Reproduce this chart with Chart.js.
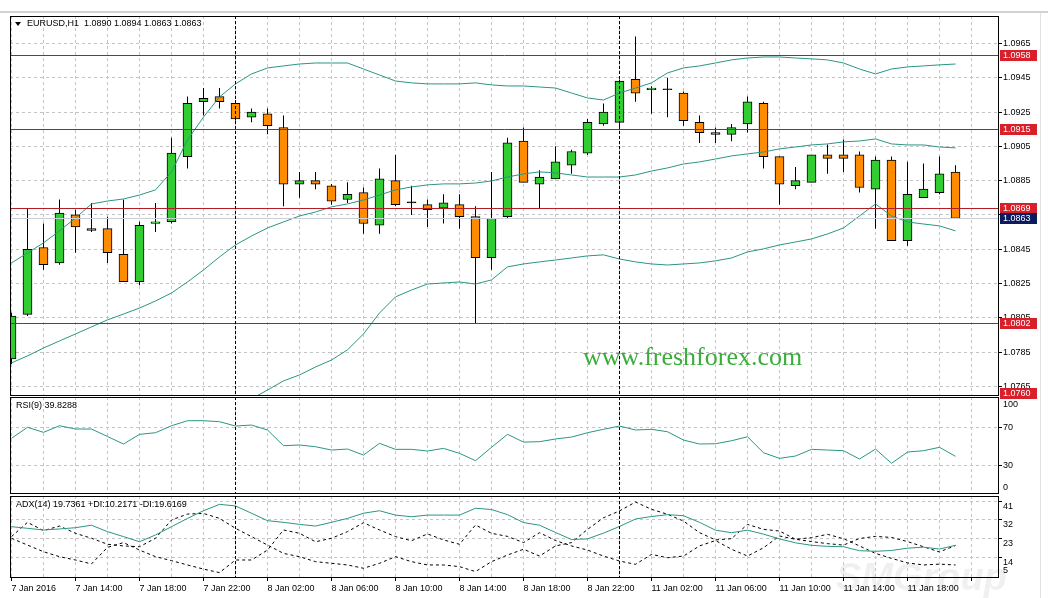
<!DOCTYPE html>
<html>
<head>
<meta charset="utf-8">
<script src="https://cdn.jsdelivr.net/npm/chart.js@4.4.1/dist/chart.umd.min.js"></script>
<style>
  html, body { margin: 0; padding: 0; background: #fff; }
  #wrap { position: relative; width: 1048px; height: 598px; overflow: hidden; background: #fff; }
  #topbar { position: absolute; left: 0; top: 11px; width: 1048px; height: 2px; background: #d2d2d2; }
  #edge { position: absolute; left: 1040px; top: 13px; width: 1px; height: 585px; background: #e2e2e2; }
  canvas { position: absolute; left: 0; }
</style>
</head>
<body>
<div id="wrap">
  <div id="topbar"></div>
  <div id="edge"></div>
  <canvas id="priceChart" width="1048" height="402" style="top:0"></canvas>
  <canvas id="rsiChart" width="1048" height="99" style="top:396px"></canvas>
  <canvas id="adxChart" width="1048" height="104" style="top:494px"></canvas>
</div>
<script>
// bottom axis labels, one every 4 bars (H1, first bar = 7 Jan 10:00)
const timeLabels = ['7 Jan 2016', '7 Jan 14:00', '7 Jan 18:00', '7 Jan 22:00', '8 Jan 02:00', '8 Jan 06:00',
  '8 Jan 10:00', '8 Jan 14:00', '8 Jan 18:00', '8 Jan 22:00', '11 Jan 02:00', '11 Jan 06:00',
  '11 Jan 10:00', '11 Jan 14:00', '11 Jan 18:00'];
const separators = [14, 38]; // 8 Jan 00:00, 11 Jan 00:00

const opens = [1.0781, 1.0807, 1.0846, 1.0837, 1.0865, 1.0856, 1.0857, 1.0842, 1.0826, 1.0860,
  1.0861, 1.0899, 1.0931, 1.0934, 1.0930, 1.0922, 1.0924, 1.0916, 1.0883, 1.0885,
  1.0882, 1.0874, 1.0878, 1.0859, 1.0885, 1.0872, 1.0871, 1.0869, 1.0871, 1.0864,
  1.0840, 1.0864, 1.0908, 1.0883, 1.0886, 1.0894, 1.0901, 1.0918, 1.0919, 1.0944,
  1.0938, 1.0938, 1.0936, 1.0919, 1.0912, 1.0912, 1.0918, 1.0930, 1.0899, 1.0882,
  1.0884, 1.0900, 1.0900, 1.0900, 1.0880, 1.0897, 1.0850, 1.0875, 1.0878, 1.0890];
const highs = [1.0808, 1.0869, 1.0860, 1.0874, 1.0868, 1.0872, 1.0864, 1.0874, 1.0861, 1.0872,
  1.0910, 1.0934, 1.0939, 1.0939, 1.0932, 1.0927, 1.0927, 1.0923, 1.0890, 1.0890,
  1.0883, 1.0884, 1.0881, 1.0892, 1.0900, 1.0882, 1.0874, 1.0877, 1.0877, 1.0870,
  1.0890, 1.0910, 1.0916, 1.0891, 1.0905, 1.0903, 1.0921, 1.0930, 1.0944, 1.0969,
  1.0940, 1.0945, 1.0937, 1.0923, 1.0916, 1.0918, 1.0934, 1.0931, 1.0899, 1.0893,
  1.0900, 1.0906, 1.0909, 1.0902, 1.0899, 1.0899, 1.0896, 1.0895, 1.0899, 1.0894];
const lows = [1.0778, 1.0806, 1.0833, 1.0836, 1.0843, 1.0855, 1.0837, 1.0826, 1.0824, 1.0855,
  1.0860, 1.0892, 1.0923, 1.0927, 1.0920, 1.0919, 1.0912, 1.0870, 1.0875, 1.0880,
  1.0871, 1.0872, 1.0854, 1.0854, 1.0870, 1.0865, 1.0858, 1.0860, 1.0857, 1.0802,
  1.0833, 1.0863, 1.0884, 1.0869, 1.0886, 1.0889, 1.0900, 1.0917, 1.0916, 1.0931,
  1.0924, 1.0922, 1.0917, 1.0907, 1.0907, 1.0908, 1.0913, 1.0892, 1.0871, 1.0880,
  1.0884, 1.0889, 1.0890, 1.0878, 1.0857, 1.0850, 1.0847, 1.0875, 1.0877, 1.0863];
const closes = [1.0806, 1.0845, 1.0836, 1.0866, 1.0858, 1.0857, 1.0843, 1.0826, 1.0859, 1.0861,
  1.0901, 1.0930, 1.0933, 1.0931, 1.0921, 1.0925, 1.0917, 1.0883, 1.0885, 1.0883,
  1.0873, 1.0877, 1.0860, 1.0886, 1.0871, 1.0872, 1.0868, 1.0872, 1.0864, 1.0840,
  1.0863, 1.0907, 1.0884, 1.0887, 1.0896, 1.0902, 1.0919, 1.0925, 1.0943, 1.0936,
  1.0939, 1.0938, 1.0920, 1.0913, 1.0913, 1.0916, 1.0931, 1.0899, 1.0883, 1.0885,
  1.0900, 1.0898, 1.0898, 1.0881, 1.0897, 1.0850, 1.0877, 1.0880, 1.0889, 1.0863];

// Bollinger bands
const bbUpper = [1.08370, 1.08428, 1.08487, 1.08557, 1.08632, 1.08714, 1.08731, 1.08743, 1.08766, 1.08796,
  1.08901, 1.09087, 1.09221, 1.09338, 1.09414, 1.09472, 1.09507, 1.09519, 1.09530, 1.09536,
  1.09536, 1.09536, 1.09501, 1.09466, 1.09431, 1.09420, 1.09414, 1.09414, 1.09414, 1.09420,
  1.09408, 1.09402, 1.09402, 1.09396, 1.09390, 1.09361, 1.09332, 1.09320, 1.09361, 1.09390,
  1.09420, 1.09478, 1.09507, 1.09519, 1.09536, 1.09554, 1.09565, 1.09571, 1.09571, 1.09565,
  1.09560, 1.09554, 1.09536, 1.09501, 1.09472, 1.09501, 1.09513, 1.09519, 1.09525, 1.09530];
const bbMiddle = [1.07787, 1.07828, 1.07874, 1.07915, 1.07956, 1.07997, 1.08038, 1.08072, 1.08107, 1.08148,
  1.08195, 1.08259, 1.08329, 1.08405, 1.08475, 1.08527, 1.08574, 1.08609, 1.08644, 1.08667,
  1.08697, 1.08714, 1.08737, 1.08766, 1.08796, 1.08813, 1.08825, 1.08831, 1.08831, 1.08836,
  1.08848, 1.08871, 1.08889, 1.08901, 1.08895, 1.08883, 1.08871, 1.08871, 1.08871, 1.08883,
  1.08906, 1.08924, 1.08947, 1.08959, 1.08976, 1.08994, 1.09006, 1.09017, 1.09035, 1.09046,
  1.09058, 1.09064, 1.09076, 1.09081, 1.09093, 1.09064, 1.09058, 1.09058, 1.09046, 1.09041];
const bbLower = [null, null, null, null, null, null, null, null, null, null,
  null, null, null, null, 1.07513, 1.07577, 1.07629, 1.07682, 1.07717, 1.07763,
  1.07804, 1.07863, 1.07956, 1.08078, 1.08172, 1.08212, 1.08247, 1.08253, 1.08259, 1.08247,
  1.08271, 1.08347, 1.08364, 1.08376, 1.08387, 1.08399, 1.08411, 1.08417, 1.08393, 1.08376,
  1.08364, 1.08358, 1.08364, 1.08370, 1.08382, 1.08399, 1.08434, 1.08452, 1.08475, 1.08492,
  1.08510, 1.08539, 1.08574, 1.08644, 1.08714, 1.08644, 1.08609, 1.08597, 1.08586, 1.08557];

const rsi = [58.4, 69.8, 64.6, 71.4, 68.0, 68.0, 60.3, 52.5, 62.5, 64.2,
  71.4, 76.6, 76.6, 75.6, 71.1, 72.1, 67.0, 50.8, 51.5, 49.7,
  46.3, 47.3, 41.1, 53.2, 47.0, 47.0, 45.3, 48.0, 42.9, 35.3,
  49.1, 62.5, 54.5, 54.9, 57.7, 59.7, 64.2, 67.7, 71.1, 67.0,
  67.7, 65.2, 56.6, 52.5, 52.8, 55.9, 60.0, 43.5, 37.7, 40.1,
  47.0, 46.3, 45.6, 37.0, 47.3, 32.6, 44.2, 45.6, 49.1, 39.8];

const adx = [28.7, 27.9, 27.1, 27.6, 28.2, 29.4, 26.3, 23.9, 21.4, 24.7,
  28.7, 32.7, 36.4, 39.5, 38.7, 35.2, 31.6, 30.8, 29.8, 29.0,
  30.8, 32.7, 35.2, 36.4, 34.3, 33.5, 34.3, 34.3, 34.3, 37.6,
  37.0, 34.5, 30.7, 29.4, 25.9, 22.5, 22.8, 25.6, 28.8, 32.4,
  33.6, 34.5, 34.0, 30.8, 27.0, 25.8, 27.0, 25.1, 22.8, 20.9,
  19.7, 19.2, 19.0, 17.1, 16.8, 17.2, 18.3, 18.8, 17.9, 19.7];
const plusDI = [23.9, 30.8, 26.8, 29.0, 25.5, 23.1, 20.2, 19.4, 19.0, 23.1,
  31.9, 34.8, 35.1, 32.7, 27.9, 23.9, 19.8, 15.8, 14.2, 11.8,
  11.0, 10.2, 8.6, 11.0, 14.2, 11.8, 10.2, 10.2, 9.4, 7.0,
  11.8, 15.0, 17.8, 14.5, 19.4, 21.0, 27.4, 33.0, 36.3, 40.6,
  37.1, 34.7, 31.4, 25.8, 22.3, 22.9, 29.8, 27.4, 26.6, 22.6,
  23.4, 25.0, 22.9, 19.4, 15.8, 13.4, 11.2, 10.2, 10.6, 10.2];
const minusDI = [23.1, 19.8, 16.6, 14.2, 12.6, 10.7, 18.7, 21.0, 17.4, 14.2,
  12.3, 10.2, 8.2, 6.5, 12.6, 12.6, 17.4, 27.1, 25.5, 21.4,
  23.1, 26.3, 30.6, 27.1, 23.9, 21.9, 25.2, 22.3, 20.2, 29.5,
  25.5, 24.0, 21.0, 25.8, 22.0, 19.4, 17.4, 14.5, 12.1, 10.5,
  15.3, 13.7, 14.5, 19.4, 22.0, 17.8, 14.5, 18.5, 24.2, 22.6,
  21.5, 20.5, 19.8, 23.0, 24.0, 23.5, 21.5, 19.0, 16.5, 19.6];

const levels = [1.0958, 1.0915, 1.0869, 1.0802, 1.0760];
const bid = 1.0863;
const priceTicks = [1.0965, 1.0945, 1.0925, 1.0905, 1.0885, 1.0865, 1.0845, 1.0825, 1.0805, 1.0785, 1.0765];
const rsiTicks = [70, 30];
const adxTicks = [41, 32, 23, 14];

const GREEN = '#32cd32';
const ORANGE = '#ff8c00';
const TEAL = '#2a9684';
const GRID = '#c4c4c4';
const LEVEL = '#b01e2a';
const FONT = '"Liberation Sans", Arial, sans-serif';

Chart.defaults.font.family = FONT;
Chart.defaults.font.size = 9;
Chart.defaults.color = '#000';

const pts = arr => arr.map((v, i) => ({x: i, y: v}));

// scales must not push the plot area inward for label overhang
function noPadding(s) {
    s.paddingTop = 0;
    s.paddingBottom = 0;
    s.paddingLeft = 0;
    s.paddingRight = 0;
}

function xScale(showLabels) {
    return {
        type: 'linear',
        min: -0.09375,
        max: 61.71875,
        offset: false,
        afterBuildTicks: s => {
            s.ticks = [];
            for (let v = 0; v <= 60; v += 2) s.ticks.push({value: v});
        },
        afterFit: s => {
            s.height = showLabels ? 20 : 0;
            noPadding(s);
        },
        grid: {
            offset: false,
            color: GRID,
            drawTicks: showLabels,
            tickLength: 3,
            tickColor: c => (c.tick && c.tick.value % 4 === 0) ? '#000' : 'rgba(0,0,0,0)'
        },
        border: { display: false, dash: [3, 3] },
        ticks: {
            display: showLabels,
            autoSkip: false,
            maxRotation: 0,
            minRotation: 0,
            align: 'start',
            padding: 2,
            callback: v => (v % 4 === 0 && timeLabels[v / 4]) ? timeLabels[v / 4] : ''
        }
    };
}

function yScale(min, max, ticks, fmt, labelOffset) {
    return {
        position: 'right',
        min: min,
        max: max,
        afterBuildTicks: s => { s.ticks = ticks.map(v => ({value: v})); },
        afterFit: s => {
            s.width = 49;
            noPadding(s);
        },
        grid: { color: GRID, tickLength: 3, tickColor: '#000' },
        border: { display: false, dash: [3, 3] },
        ticks: { padding: 1, autoSkip: false, labelOffset: labelOffset || 0, callback: fmt }
    };
}

// frame, period separators, levels, titles and price boxes
const panelPlugin = {
    id: 'panel',
    afterDraw(chart, args, o) {
        const ctx = chart.ctx;
        const a = chart.chartArea;
        const xs = chart.scales.x;
        const ys = chart.scales.y;
        ctx.save();
        ctx.lineWidth = 1;

        (o.levels || []).forEach(v => {
            const py = Math.round(ys.getPixelForValue(v)) + 0.5;
            ctx.strokeStyle = LEVEL;
            ctx.beginPath(); ctx.moveTo(a.left, py); ctx.lineTo(a.right, py); ctx.stroke();
        });
        if (o.bid) {
            const py = Math.round(ys.getPixelForValue(o.bid)) + 0.5;
            ctx.strokeStyle = '#c9ced8';
            ctx.beginPath(); ctx.moveTo(a.left, py); ctx.lineTo(a.right, py); ctx.stroke();
        }

        ctx.strokeStyle = '#000';
        ctx.setLineDash([3, 2]);
        separators.forEach(i => {
            const px = Math.floor(xs.getPixelForValue(i)) + 0.5;
            ctx.beginPath(); ctx.moveTo(px, a.top); ctx.lineTo(px, a.bottom); ctx.stroke();
        });
        ctx.setLineDash([]);
        ctx.strokeRect(a.left + 0.5, a.top + 0.5, a.width - 1, a.height - 1);

        ctx.font = '9px ' + FONT;
        ctx.textBaseline = 'middle';
        ctx.fillStyle = '#000';
        if (o.triangle) {
            ctx.beginPath();
            ctx.moveTo(a.left + 5, a.top + 6);
            ctx.lineTo(a.left + 11, a.top + 6);
            ctx.lineTo(a.left + 8, a.top + 10);
            ctx.closePath();
            ctx.fill();
        }
        ctx.fillText(o.title, a.left + o.titleX, a.top + o.titleY);

        (o.freeLabels || []).forEach(l => {
            const py = l.fromBottom ? a.bottom - l.dy : a.top + l.dy;
            ctx.fillStyle = '#000';
            ctx.fillText(l.text, a.right + 4, py);
        });

        (o.levels || []).forEach(v => drawBox(ctx, a, ys, v, '#d8202a'));
        if (o.bid) drawBox(ctx, a, ys, o.bid, '#0c1a60');

        (o.marks || []).forEach(m => {
            ctx.font = m.font;
            ctx.fillStyle = m.color;
            ctx.textBaseline = 'alphabetic';
            ctx.fillText(m.text, m.x, m.y);
        });
        ctx.restore();
    }
};

function drawBox(ctx, a, ys, v, color) {
    // keep the price box inside the window, like the terminal does
    const py = Math.min(Math.round(ys.getPixelForValue(v)), Math.round(a.bottom) - 3);
    ctx.fillStyle = color;
    ctx.fillRect(a.right + 1, py - 5, 37, 11);
    ctx.fillStyle = '#fff';
    ctx.fillText(v.toFixed(4), a.right + 4, py + 0.5);
}

const baseOptions = (padTop, padBottom) => ({
    responsive: false,
    animation: false,
    devicePixelRatio: 1,
    events: [],
    layout: { padding: { left: 10, top: padTop, right: 0, bottom: padBottom }, autoPadding: false },
    elements: { point: { radius: 0 }, line: { tension: 0, borderWidth: 1 } }
});

const bodyColors = opens.map((o, i) => closes[i] > o ? GREEN : (closes[i] < o ? ORANGE : '#000'));

new Chart(document.getElementById('priceChart'), {
    type: 'bar',
    data: {
        datasets: [
            { type: 'line', data: pts(bbUpper), borderColor: TEAL, order: 0 },
            { type: 'line', data: pts(bbMiddle), borderColor: TEAL, order: 0 },
            { type: 'line', data: pts(bbLower), borderColor: TEAL, order: 0 },
            {
                data: opens.map((o, i) => ({x: i, y: [o, closes[i]]})),
                backgroundColor: bodyColors, borderColor: '#000', borderWidth: 1, borderSkipped: false,
                barThickness: 9, maxBarThickness: 9, minBarLength: 1, grouped: false, order: 1
            },
            {
                data: lows.map((l, i) => ({x: i, y: [l, highs[i]]})),
                backgroundColor: '#000', borderWidth: 0, inflateAmount: 0,
                barThickness: 1, maxBarThickness: 1, grouped: false, order: 2
            }
        ]
    },
    options: Object.assign(baseOptions(16, 6), {
        scales: {
            x: xScale(false),
            y: yScale(1.07594, 1.09810, priceTicks, v => v.toFixed(4))
        },
        plugins: {
            legend: { display: false },
            tooltip: { enabled: false },
            panel: {
                title: 'EURUSD,H1  1.0890 1.0894 1.0863 1.0863', titleX: 17, titleY: 8, triangle: true,
                levels: levels, bid: bid,
                marks: [
                    { text: 'www.freshforex.com', x: 583, y: 365, font: '26px "Liberation Serif", "Times New Roman", serif', color: '#3aad3a' }
                ]
            }
        }
    }),
    plugins: [panelPlugin]
});

new Chart(document.getElementById('rsiChart'), {
    type: 'line',
    data: { datasets: [ { data: pts(rsi), borderColor: TEAL } ] },
    options: Object.assign(baseOptions(1, 1), {
        scales: {
            x: xScale(false),
            y: yScale(0.85, 101.1, rsiTicks, v => String(v))
        },
        plugins: {
            legend: { display: false },
            tooltip: { enabled: false },
            panel: {
                title: 'RSI(9) 39.8288', titleX: 6, titleY: 9,
                freeLabels: [ { text: '100', dy: 8 }, { text: '0', dy: 6, fromBottom: true } ]
            }
        }
    }),
    plugins: [panelPlugin]
});

new Chart(document.getElementById('adxChart'), {
    type: 'line',
    data: {
        datasets: [
            { data: pts(adx), borderColor: TEAL },
            { data: pts(plusDI), borderColor: '#000', borderDash: [3, 3] },
            { data: pts(minusDI), borderColor: '#000', borderDash: [3, 3] }
        ]
    },
    options: Object.assign(baseOptions(2, 0), {
        scales: {
            x: xScale(true),
            y: yScale(3.9, 43.52, adxTicks, v => String(v), 5)
        },
        plugins: {
            legend: { display: false },
            tooltip: { enabled: false },
            panel: {
                title: 'ADX(14) 19.7361 +DI:10.2171 -DI:19.6169', titleX: 6, titleY: 9,
                freeLabels: [ { text: '5', dy: 7, fromBottom: true } ],
                marks: [
                    { text: 'SMGroup', x: 836, y: 96, font: 'italic bold 38px "Liberation Sans", Arial, sans-serif', color: 'rgba(0,0,0,0.06)' }
                ]
            }
        }
    }),
    plugins: [panelPlugin]
});
</script>
</body>
</html>
